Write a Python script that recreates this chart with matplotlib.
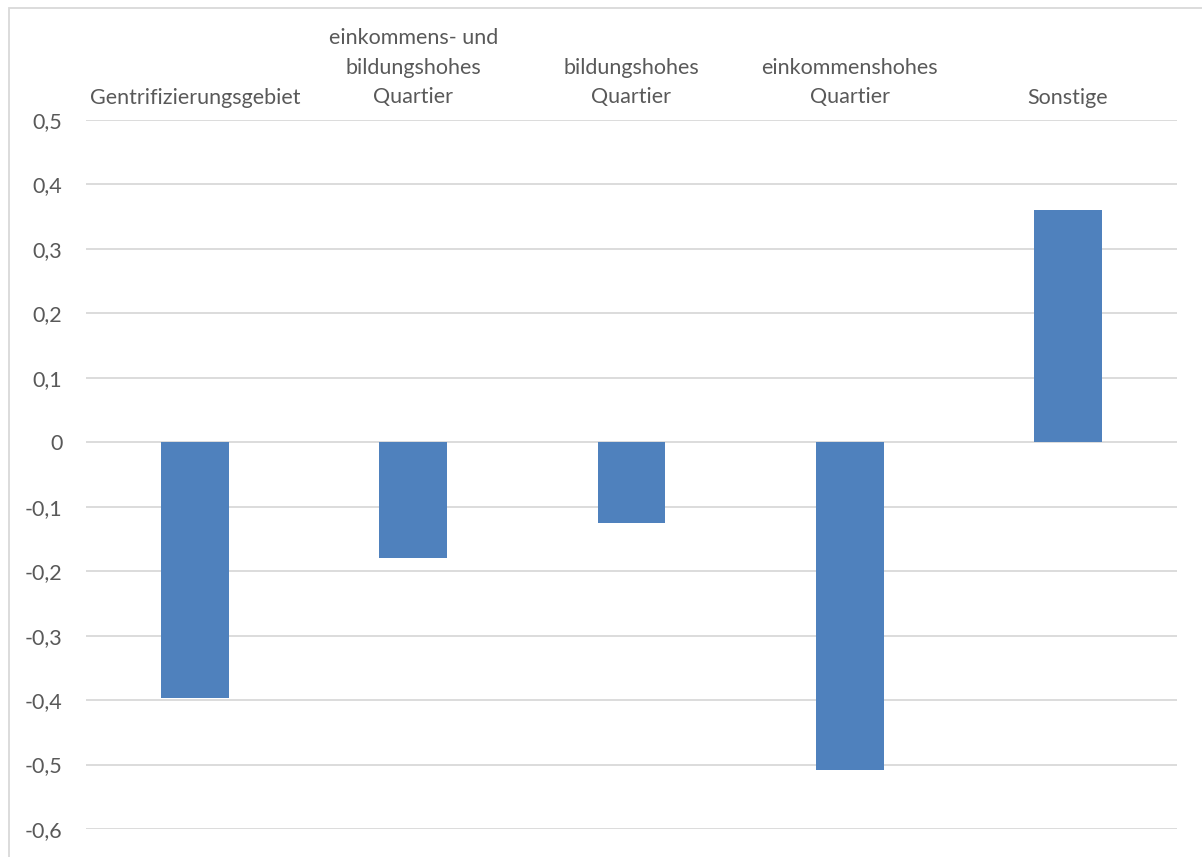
import matplotlib
matplotlib.use("Agg")
import matplotlib.pyplot as plt
from matplotlib.patches import Rectangle
from matplotlib.ticker import FuncFormatter

categories = [
    "Gentrifizierungsgebiet",
    "einkommens- und\nbildungshohes\nQuartier",
    "bildungshohes\nQuartier",
    "einkommenshohes\nQuartier",
    "Sonstige",
]
values = [-0.397, -0.179, -0.125, -0.508, 0.360]
y_ticks = [-0.6, -0.5, -0.4, -0.3, -0.2, -0.1, 0.0, 0.1, 0.2, 0.3, 0.4, 0.5]

BAR = "#4F81BD"
GRID = "#D9D9D9"
TEXT = "#595959"

plt.rcParams["font.family"] = ["Lato", "DejaVu Sans"]

fig = plt.figure(figsize=(12.02, 8.57), dpi=100)
ax = fig.add_axes([86 / 1202, 28 / 857, 1091 / 1202, 709 / 857])

x = range(len(categories))
ax.bar(x, values, width=0.31, color=BAR, zorder=2)

ax.set_xlim(-0.5, len(categories) - 0.5)
ax.set_ylim(-0.6, 0.5)
ax.set_yticks(y_ticks)
ax.yaxis.set_major_formatter(FuncFormatter(
    lambda v, _: "0" if abs(v) < 1e-9 else f"{v:.1f}".replace(".", ",")))
ax.grid(axis="y", color=GRID, linewidth=1.3, zorder=0)
ax.set_axisbelow(True)

ax.xaxis.tick_top()
ax.set_xticks(list(x))
ax.set_xticklabels(categories, multialignment="center", linespacing=1.6)
ax.tick_params(axis="x", length=0, pad=9, labelsize=15.5, labelcolor=TEXT)
ax.tick_params(axis="y", length=0, pad=17, labelsize=15.5, labelcolor=TEXT)
for s in ax.spines.values():
    s.set_visible(False)

# outer chart border (only left and top visible in the crop)
fig.patches.append(Rectangle((9 / 1202, -0.1), 1.2, (857 - 8) / 857 + 0.1,
                             transform=fig.transFigure, fill=False,
                             edgecolor="#D9D9D9", linewidth=1.3))

fig.savefig("out.png", dpi=100)
